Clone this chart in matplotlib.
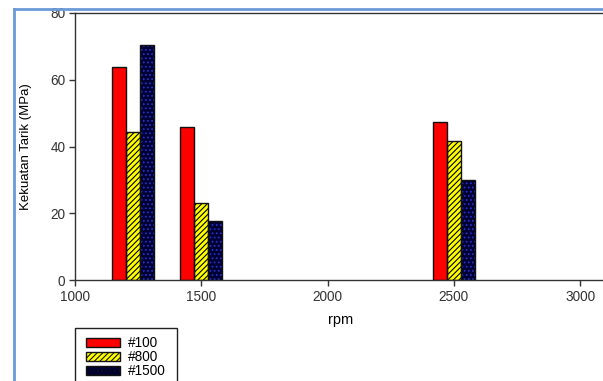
import matplotlib.pyplot as plt
from matplotlib.patches import Rectangle
from matplotlib.lines import Line2D
import numpy as np

plt.rcParams['font.family'] = ['Liberation Sans', 'DejaVu Sans']
plt.rcParams['hatch.linewidth'] = 0.8

rpm = [1230, 1500, 2500]
series = ['#100', '#800', '#1500']
vals_100 = [63.7, 45.9, 47.2]
vals_800 = [44.4, 23.1, 41.7]
vals_1500 = [70.4, 17.8, 29.9]

W, H = 603, 381
fig = plt.figure(figsize=(W / 100, H / 100), dpi=100)
ax = fig.add_axes([75 / W, 1 - 280 / H, 530.5 / W, 267 / H])

bw = 55
x = np.array(rpm)
styles = [
    dict(face='#ff0000', hatch=None, hcol='black'),
    dict(face='#ffff00', hatch='//////', hcol='black'),
    dict(face='#000033', hatch='....', hcol='#2233cc'),
]
handles = []
for i, (vals, st) in enumerate(zip([vals_100, vals_800, vals_1500], styles)):
    pos = x + (i - 1) * bw
    if st['hatch']:
        ax.bar(pos, vals, bw, color=st['face'], hatch=st['hatch'],
               edgecolor=st['hcol'], linewidth=0, zorder=2)
    else:
        ax.bar(pos, vals, bw, color=st['face'], linewidth=0, zorder=2)
    ax.bar(pos, vals, bw, facecolor='none', edgecolor='#111111',
           linewidth=1.0, zorder=3)
    handles.append(Rectangle((0, 0), 1, 1, facecolor=st['face'],
                             hatch=st['hatch'], edgecolor='#111111',
                             linewidth=1.0))

ax.set_xlim(1000, 3100)
ax.set_ylim(0, 80)
ax.set_xticks([1000, 1500, 2000, 2500, 3000])
ax.set_yticks([0, 20, 40, 60, 80])
ax.spines['right'].set_visible(False)
for s in ['left', 'bottom', 'top']:
    ax.spines[s].set_color('#333333')
    ax.spines[s].set_linewidth(1.0)
ax.tick_params(direction='out', length=4, width=1, color='#333333',
               labelsize=9.8, labelcolor='#333333', pad=3)
ax.set_xlabel('rpm', fontsize=10.5, labelpad=7)
ax.set_ylabel('Kekuatan Tarik (MPa)', fontsize=9.5, labelpad=13)

leg = fig.legend(handles, series, loc='upper left',
                 bbox_to_anchor=(86 / W, 1 - 336 / H), frameon=False,
                 fontsize=9.8, handlelength=2.5, handleheight=0.65,
                 handletextpad=0.6, labelspacing=0.0, borderaxespad=0,
                 borderpad=0)
fig.add_artist(Rectangle((75 / W, -0.05), 102 / W, 1 - 328 / H + 0.05,
                         transform=fig.transFigure, fill=False,
                         edgecolor='#222222', linewidth=1.0))

# blue frame of the embedded object
bc = '#6b9bd6'
fig.add_artist(Line2D([13.5 / W, 1.01], [1 - 9 / H, 1 - 9 / H],
                      transform=fig.transFigure, color=bc, lw=2))
fig.add_artist(Line2D([13.5 / W, 13.5 / W], [-0.01, 1 - 9 / H],
                      transform=fig.transFigure, color=bc, lw=2))

fig.savefig('out.png', dpi=100)
